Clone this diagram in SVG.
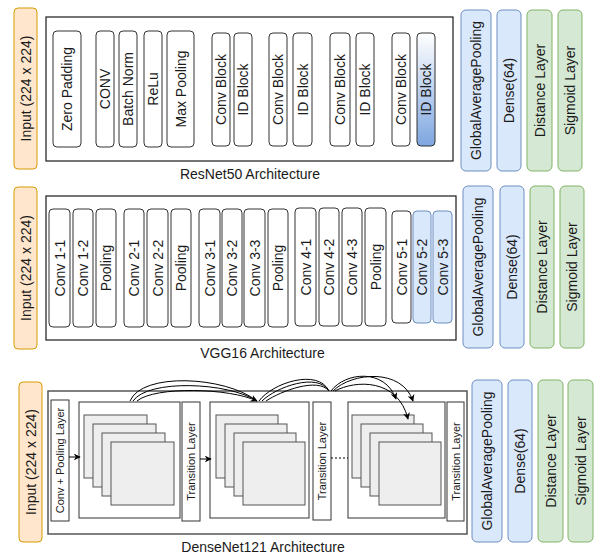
<svg xmlns="http://www.w3.org/2000/svg" width="596" height="557" viewBox="0 0 596 557">
<defs>
<style>
.bg{fill:#ffffff}
.frame{fill:#ffffff;stroke:#1a1a1a;stroke-width:1.2}
.frame2{fill:#ffffff;stroke:#555555;stroke-width:1.5}
.blk{fill:#ffffff;stroke:#333333;stroke-width:1}
.sq{fill:#eeeeee;stroke:#555555;stroke-width:1}
.in{fill:#ffe6cc;stroke:#d79b00;stroke-width:1}
.bl{fill:#dae8fc;stroke:#6c8ebf;stroke-width:1}
.gr{fill:#d5e8d4;stroke:#82b366;stroke-width:1}
.t{font-family:"Liberation Sans",Arial,sans-serif;font-size:14px;fill:#1a1a1a;text-anchor:middle;dominant-baseline:central}
.s{font-size:11px}
.cap{font-family:"Liberation Sans",Arial,sans-serif;font-size:14px;fill:#1a1a1a;text-anchor:middle}
.ln{fill:none;stroke:#000000;stroke-width:1}
</style>
<linearGradient id="gblue" x1="0" y1="0" x2="0" y2="1">
<stop offset="0" stop-color="#ffffff"/>
<stop offset="1" stop-color="#7ea6e0"/>
</linearGradient>
<marker id="ah" viewBox="0 0 10 10" refX="9" refY="5" markerWidth="7" markerHeight="7" orient="auto" markerUnits="userSpaceOnUse">
<path d="M0,0 L10,5 L0,10 L3,5 Z" fill="#000"/>
</marker>
</defs>
<rect class="bg" x="0" y="0" width="596" height="557"/>

<!-- ResNet50 -->
<g id="resnet-input"><rect class="in" x="14" y="8" width="23" height="161" rx="4"/><text class="t" transform="translate(25.5,88.5) rotate(-90)">Input (224 x 224)</text></g>
<g id="resnet-frame"><rect class="frame" x="46" y="17" width="407" height="144"/></g>
<g id="r-zero"><rect class="blk" x="53" y="31" width="28" height="116" rx="4"/><text class="t" transform="translate(67,89) rotate(-90)">Zero Padding</text></g>
<g id="r-conv"><rect class="blk" x="96" y="31" width="18" height="116" rx="4"/><text class="t" transform="translate(105,89) rotate(-90)">CONV</text></g>
<g id="r-bn"><rect class="blk" x="119" y="31" width="18" height="116" rx="4"/><text class="t" transform="translate(128,89) rotate(-90)">Batch Norm</text></g>
<g id="r-relu"><rect class="blk" x="144" y="31" width="18" height="116" rx="4"/><text class="t" transform="translate(153,89) rotate(-90)">ReLu</text></g>
<g id="r-maxpool"><rect class="blk" x="167" y="31" width="27" height="116" rx="4"/><text class="t" transform="translate(180.5,89) rotate(-90)">Max Pooling</text></g>
<g id="r-cb1"><rect class="blk" x="212" y="33" width="18" height="113" rx="4"/><text class="t" transform="translate(221,89.5) rotate(-90)">Conv Block</text></g>
<g id="r-id1"><rect class="blk" x="234" y="33" width="18" height="113" rx="4"/><text class="t" transform="translate(243,89.5) rotate(-90)">ID Block</text></g>
<g id="r-cb2"><rect class="blk" x="269" y="33" width="18" height="113" rx="4"/><text class="t" transform="translate(278,89.5) rotate(-90)">Conv Block</text></g>
<g id="r-id2"><rect class="blk" x="293" y="33" width="19" height="113" rx="4"/><text class="t" transform="translate(302.5,89.5) rotate(-90)">ID Block</text></g>
<g id="r-cb3"><rect class="blk" x="330" y="33" width="20" height="113" rx="4"/><text class="t" transform="translate(340,89.5) rotate(-90)">Conv Block</text></g>
<g id="r-id3"><rect class="blk" x="356" y="33" width="18" height="113" rx="4"/><text class="t" transform="translate(365,89.5) rotate(-90)">ID Block</text></g>
<g id="r-cb4"><rect class="blk" x="392" y="33" width="18" height="113" rx="4"/><text class="t" transform="translate(401,89.5) rotate(-90)">Conv Block</text></g>
<g id="r-id4"><rect x="417" y="33" width="18" height="113" rx="4" fill="url(#gblue)" stroke="#333333"/><text class="t" transform="translate(426,89.5) rotate(-90)">ID Block</text></g>
<text class="cap" x="250" y="179">ResNet50 Architecture</text>
<g id="r-gap"><rect class="bl" x="461" y="10" width="30" height="161" rx="5"/><text class="t" transform="translate(476,90.5) rotate(-90)">GlobalAveragePooling</text></g>
<g id="r-dense"><rect class="bl" x="497" y="10" width="24" height="161" rx="5"/><text class="t" transform="translate(509,90.5) rotate(-90)">Dense(64)</text></g>
<g id="r-dist"><rect class="gr" x="527" y="10" width="25" height="161" rx="5"/><text class="t" transform="translate(539.5,90.5) rotate(-90)">Distance Layer</text></g>
<g id="r-sig"><rect class="gr" x="558" y="10" width="24" height="161" rx="5"/><text class="t" transform="translate(570,90.5) rotate(-90)">Sigmoid Layer</text></g>

<!-- VGG16 -->
<g id="vgg-input"><rect class="in" x="14" y="187" width="23" height="162" rx="4"/><text class="t" transform="translate(25.5,268) rotate(-90)">Input (224 x 224)</text></g>
<g id="vgg-frame"><rect class="frame" x="46" y="196" width="410" height="144"/></g>
<g id="v-c11"><rect class="blk" x="49" y="209" width="21" height="118" rx="4"/><text class="t" transform="translate(59.5,268) rotate(-90)">Conv 1-1</text></g>
<g id="v-c12"><rect class="blk" x="73" y="209" width="20" height="118" rx="4"/><text class="t" transform="translate(83,268) rotate(-90)">Conv 1-2</text></g>
<g id="v-p1"><rect class="blk" x="96" y="209" width="20" height="118" rx="4"/><text class="t" transform="translate(106,268) rotate(-90)">Pooling</text></g>
<g id="v-c21"><rect class="blk" x="124" y="209" width="20" height="118" rx="4"/><text class="t" transform="translate(134,268) rotate(-90)">Conv 2-1</text></g>
<g id="v-c22"><rect class="blk" x="147" y="209" width="21" height="118" rx="4"/><text class="t" transform="translate(157.5,268) rotate(-90)">Conv 2-2</text></g>
<g id="v-p2"><rect class="blk" x="171" y="209" width="20" height="118" rx="4"/><text class="t" transform="translate(181,268) rotate(-90)">Pooling</text></g>
<g id="v-c31"><rect class="blk" x="199" y="209" width="21" height="118" rx="4"/><text class="t" transform="translate(209.5,268) rotate(-90)">Conv 3-1</text></g>
<g id="v-c32"><rect class="blk" x="222" y="209" width="20" height="118" rx="4"/><text class="t" transform="translate(232,268) rotate(-90)">Conv 3-2</text></g>
<g id="v-c33"><rect class="blk" x="244" y="209" width="21" height="118" rx="4"/><text class="t" transform="translate(254.5,268) rotate(-90)">Conv 3-3</text></g>
<g id="v-p3"><rect class="blk" x="268" y="209" width="20" height="118" rx="4"/><text class="t" transform="translate(278,268) rotate(-90)">Pooling</text></g>
<g id="v-c41"><rect class="blk" x="295" y="208" width="21" height="118" rx="4"/><text class="t" transform="translate(305.5,267) rotate(-90)">Conv 4-1</text></g>
<g id="v-c42"><rect class="blk" x="319" y="208" width="20" height="118" rx="4"/><text class="t" transform="translate(329,267) rotate(-90)">Conv 4-2</text></g>
<g id="v-c43"><rect class="blk" x="342" y="208" width="20" height="118" rx="4"/><text class="t" transform="translate(352,267) rotate(-90)">Conv 4-3</text></g>
<g id="v-p4"><rect class="blk" x="365" y="208" width="21" height="118" rx="4"/><text class="t" transform="translate(375.5,267) rotate(-90)">Pooling</text></g>
<g id="v-c51"><rect class="blk" x="392" y="211" width="19" height="112" rx="4"/><text class="t" transform="translate(401.5,267) rotate(-90)">Conv 5-1</text></g>
<g id="v-c52"><rect class="bl" x="413" y="211" width="18" height="112" rx="4"/><text class="t" transform="translate(422,267) rotate(-90)">Conv 5-2</text></g>
<g id="v-c53"><rect class="bl" x="433" y="211" width="19" height="112" rx="4"/><text class="t" transform="translate(442.5,267) rotate(-90)">Conv 5-3</text></g>
<text class="cap" x="262.5" y="358">VGG16 Architecture</text>
<g id="v-gap"><rect class="bl" x="463" y="186" width="30" height="162" rx="5"/><text class="t" transform="translate(478,267) rotate(-90)">GlobalAveragePooling</text></g>
<g id="v-dense"><rect class="bl" x="500" y="186" width="24" height="162" rx="5"/><text class="t" transform="translate(512,267) rotate(-90)">Dense(64)</text></g>
<g id="v-dist"><rect class="gr" x="530" y="186" width="24" height="162" rx="5"/><text class="t" transform="translate(542,267) rotate(-90)">Distance Layer</text></g>
<g id="v-sig"><rect class="gr" x="560" y="186" width="24" height="162" rx="5"/><text class="t" transform="translate(572,267) rotate(-90)">Sigmoid Layer</text></g>

<!-- DenseNet121 -->
<g id="d-input"><rect class="in" x="19" y="382" width="23" height="160" rx="4"/><text class="t" transform="translate(30.5,462) rotate(-90)">Input (224 x 224)</text></g>
<g id="d-frame"><rect class="frame2" x="48" y="391" width="419" height="143"/></g>
<g id="d-convpool"><rect class="blk" x="51" y="400" width="18" height="121"/><text class="t s" transform="translate(60,460.5) rotate(-90)">Conv + Pooling Layer</text></g>
<g id="d-block1"><rect class="blk" x="79" y="402" width="101" height="116"/>
<rect class="sq" x="84" y="415" width="63" height="63"/><rect class="sq" x="93" y="424" width="63" height="63"/><rect class="sq" x="102" y="433" width="63" height="63"/><rect class="sq" x="111" y="442" width="63" height="63"/></g>
<g id="d-trans1"><rect class="blk" x="182" y="402" width="18" height="119"/><text class="t s" transform="translate(191,461.5) rotate(-90)">Transition Layer</text></g>
<g id="d-block2"><rect class="blk" x="210" y="402" width="99" height="116"/>
<rect class="sq" x="216" y="415" width="62" height="63"/><rect class="sq" x="225" y="424" width="62" height="63"/><rect class="sq" x="234" y="433" width="62" height="63"/><rect class="sq" x="243" y="442" width="62" height="63"/></g>
<g id="d-trans2"><rect class="blk" x="313" y="402" width="18" height="118"/><text class="t s" transform="translate(322,461) rotate(-90)">Transition Layer</text></g>
<g id="d-block3"><rect class="blk" x="348" y="402" width="97" height="116"/>
<rect class="sq" x="352" y="415" width="62" height="63"/><rect class="sq" x="361" y="424" width="62" height="63"/><rect class="sq" x="370" y="433" width="62" height="63"/><rect class="sq" x="379" y="442" width="62" height="63"/></g>
<g id="d-trans3"><rect class="blk" x="447" y="402" width="17" height="119"/><text class="t s" transform="translate(455.5,461.5) rotate(-90)">Transition Layer</text></g>
<text class="cap" x="263" y="552">DenseNet121 Architecture</text>
<g id="d-gap"><rect class="bl" x="472" y="380" width="30" height="162" rx="5"/><text class="t" transform="translate(487,461) rotate(-90)">GlobalAveragePooling</text></g>
<g id="d-dense"><rect class="bl" x="508" y="380" width="24" height="162" rx="5"/><text class="t" transform="translate(520,461) rotate(-90)">Dense(64)</text></g>
<g id="d-dist"><rect class="gr" x="538" y="380" width="25" height="162" rx="5"/><text class="t" transform="translate(550.5,461) rotate(-90)">Distance Layer</text></g>
<g id="d-sig"><rect class="gr" x="568" y="380" width="25" height="162" rx="5"/><text class="t" transform="translate(580.5,461) rotate(-90)">Sigmoid Layer</text></g>

<g id="connectors">
<path class="ln" d="M69,457 L80,457" marker-end="url(#ah)"/>
<path class="ln" d="M200,459 L211,459" marker-end="url(#ah)"/>
<path class="ln" d="M331,458 L348,458" stroke-dasharray="2,2"/>
<path class="ln" d="M130,401 C142,372 225,376 257,401"/>
<path class="ln" d="M133,401 C148,379 228,382 257,401"/>
<path class="ln" d="M137,401 C155,386 230,388 257,401" marker-end="url(#ah)"/>
<path class="ln" d="M259,401 C272,383 318,368 329,391"/>
<path class="ln" d="M262,401 C276,387 318,372 329,391"/>
<path class="ln" d="M266,401 C281,391 318,377 329,391"/>
<path class="ln" d="M331,391 C345,372 385,368 396,399" marker-end="url(#ah)"/>
<path class="ln" d="M333,391 C352,372 402,368 413,401" marker-end="url(#ah)"/>
<path class="ln" d="M335,391 C355,380 398,378 408,419" marker-end="url(#ah)"/>
</g>
</svg>
